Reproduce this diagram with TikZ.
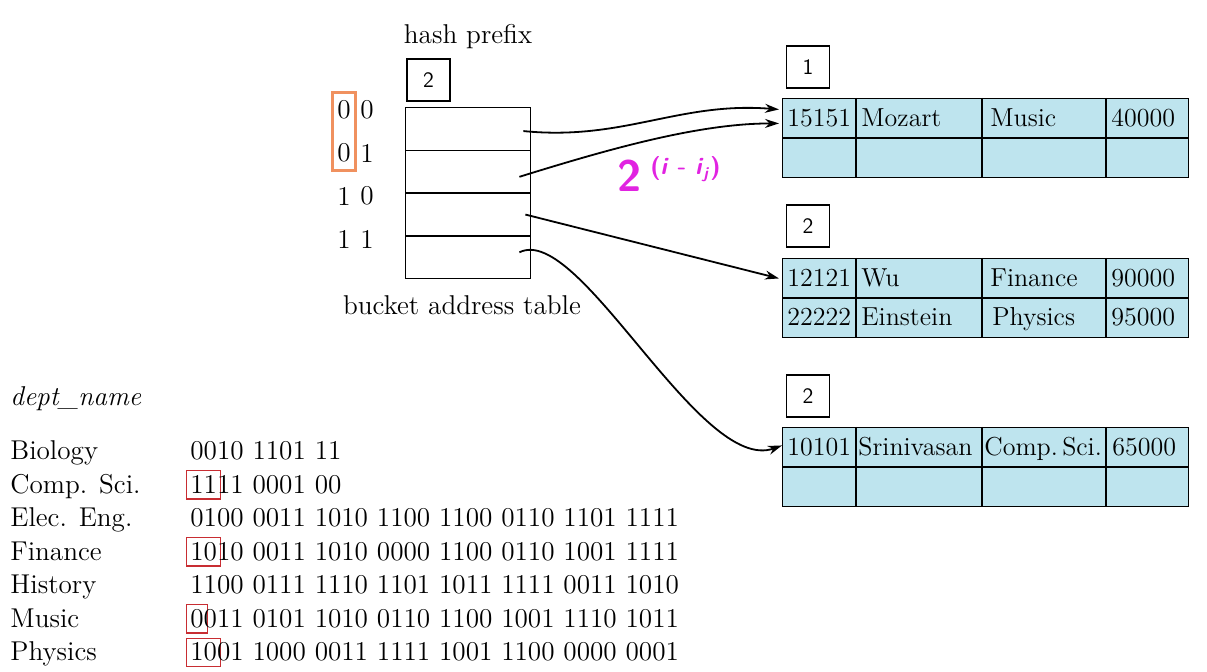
\documentclass[tikz,border=0pt]{standalone}
\usetikzlibrary{arrows.meta,calc,fit}
\definecolor{bucketblue}{RGB}{190,228,238}
\definecolor{pfxred}{RGB}{200,45,50}
\definecolor{pfxorange}{RGB}{240,145,95}
\definecolor{hashmagenta}{RGB}{225,35,225}
\newcommand{\tabfont}{\fontsize{13.6}{16}\selectfont}
\newcommand{\cellfont}{\fontsize{13}{15}\selectfont}
\newcommand{\pfx}[1]{\makebox[0pt][l]{\setlength{\fboxsep}{0pt}\setlength{\fboxrule}{0.7pt}\kern-2.2pt\textcolor{pfxred}{\fbox{\rule[-2.5pt]{0pt}{13.5pt}\kern1.5pt\phantom{#1}\kern1.5pt}}}#1}

\begin{document}
\begin{tikzpicture}[x=0.5pt, y=-0.5pt,
	every node/.style={font=\tabfont},
	slot/.style={draw, line width=0.7pt, minimum width=62.5pt, minimum height=21.375pt, inner sep=0pt},
	bit/.style={inner sep=0pt},
	depthbox/.style={draw, line width=0.7pt, minimum width=21.5pt, minimum height=21pt, inner sep=0pt, font=\sffamily\fontsize{11}{12}\selectfont},
	bucketrow/.style={draw, line width=0.7pt, fill=bucketblue, minimum width=203pt, minimum height=19.75pt, inner sep=0pt},
	cellline/.style={line width=0.7pt},
	cell/.style={anchor=base west, inner sep=0pt, font=\cellfont},
	listtext/.style={anchor=base west, inner sep=0pt},
	ptr/.style={line width=0.9pt, -{Stealth[length=7pt,width=4.5pt]}},
	pfxframe/.style={draw=pfxorange, line width=1.5pt, inner xsep=2pt, inner ysep=4pt},
	magtxt/.style={text=hashmagenta, inner sep=0pt}]
	\useasboundingbox (0,0) rectangle (1207,672);

	% bucket address table
	\node[inner sep=0pt] (hpfx) at (468,37) {hash prefix};
	\node[depthbox] (gdepth) at (428.5,80) {2};
	\foreach \i in {0,...,3}
		\node[slot, anchor=north west] (slot\i) at (405,107+42.75*\i) {};
	\node[inner sep=0pt] (battl) at (462,305) {bucket address table};

	% hash prefix values
	\foreach \hi/\lo [count=\i from 0] in {0/0,0/1,1/0,1/1} {
		\node[bit] (hi\i) at (344,110+43*\i) {\hi};
		\node[bit] (lo\i) at (367,110+43*\i) {\lo};
	}
	\node[pfxframe, fit=(hi0)(hi1)] (pfxsel) {};

	% buckets
	\foreach \b/\y in {1/98,2/258,3/427} {
		\node[bucketrow, anchor=north west] (bkt\b-r1) at (782,\y) {};
		\node[bucketrow, anchor=north west] (bkt\b-r2) at (782,\y+39.5) {};
		\foreach \cx in {856,982,1106}
			\draw[cellline] (\cx,\y) -- (\cx,\y+79);
	}
	\node[depthbox] (ldepth1) at (808,67) {1};
	\node[depthbox] (ldepth2) at (808,226) {2};
	\node[depthbox] (ldepth3) at (808,396) {2};

	% bucket records
	\foreach \x/\y/\t [count=\k] in {
		787/127/15151, 861/127/Mozart, 990/127/Music, 1111/127/40000,
		787/286.5/12121, 861/286.5/Wu, 990/286.5/Finance, 1111/286.5/90000,
		787/326/22222, 861/326/Einstein, 992/326/Physics, 1111/326/95000,
		787/456/10101, 858/456/Srinivasan, 984/456/{Comp.\,Sci.}, 1112/456/65000}
		\node[cell] (rec\k) at (\x,\y) {\t};

	% pointers
	\draw[ptr] ($(slot0.east)+(-8,2)$) .. controls +(100,10) and +(-100,-8) .. ($(bkt1-r1.west)+(-3,-9)$);
	\draw[ptr] ($(slot1.east)+(-12,5)$) .. controls +(90,-28) and +(-80,0) .. ($(bkt1-r1.west)+(-3,5)$);
	\draw[ptr] ($(slot2.east)+(-6,0)$) -- ($(bkt2-r1.west)+(-3,0)$);
	\draw[ptr] ($(slot3.east)+(-12,-5)$) .. controls +(60,-30) and +(-82,30) .. ($(bkt3-r1.west)+(0,-2)$);

	% global vs local depth
	\node[magtxt, font=\sffamily\bfseries\fontsize{22}{24}\selectfont] (gtwo) at (630,176) {2};
	\node[magtxt, font=\sffamily\bfseries\fontsize{12}{14}\selectfont, anchor=west] (gexp) at (650,169) {(\textit{i} - \textit{i}\textsubscript{\textit{j}})};

	% dept_name hashes
	\node[listtext] (dhead) at (10,406) {\textit{dept\_name}};
	\foreach \n/\h/\y [count=\i] in {
		Biology/{0010 1101 11}/460,
		{Comp. Sci.}/{\pfx{11}11 0001 00}/493.5,
		{Elec. Eng.}/{0100 0011 1010 1100 1100 0110 1101 1111}/527,
		Finance/{\pfx{10}10 0011 1010 0000 1100 0110 1001 1111}/560.5,
		History/{1100 0111 1110 1101 1011 1111 0011 1010}/594,
		Music/{\pfx{0}011 0101 1010 0110 1100 1001 1110 1011}/627.5,
		Physics/{\pfx{10}01 1000 0011 1111 1001 1100 0000 0001}/661} {
		\node[listtext] (dept\i) at (10,\y) {\n};
		\node[listtext] (hash\i) at (190,\y) {\h};
	}
\end{tikzpicture}
\end{document}
